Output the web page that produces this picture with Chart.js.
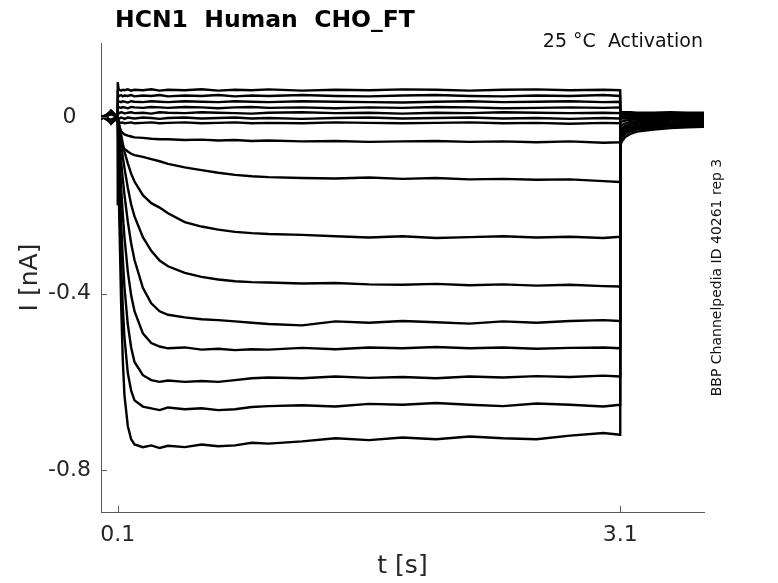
<!DOCTYPE html>
<html>
<head>
<meta charset="utf-8">
<script src="https://cdn.jsdelivr.net/npm/chart.js@4.4.1/dist/chart.umd.min.js"></script>
<style>
  html,body{margin:0;padding:0;background:#fff;}
  #wrap{width:778px;height:583px;}
</style>
</head>
<body>
<div id="wrap"><canvas id="c" width="778" height="583"></canvas></div>
<script>
// time base (s): pre-step baseline, activation step, tail after 3.1 s
const tSec = [0, 0.03, 0.06, 0.099,
  0.1, 0.105, 0.11, 0.12, 0.13, 0.14, 0.16, 0.18, 0.2, 0.25, 0.3, 0.35, 0.4,
  0.5, 0.6, 0.7, 0.8, 0.9, 1.0, 1.2, 1.4, 1.6, 1.8, 2.0, 2.2, 2.4, 2.6, 2.8, 3.0, 3.099,
  3.1, 3.11, 3.13, 3.16, 3.2, 3.3, 3.4, 3.5, 3.6];

// currents (nA), one sweep per array, top to bottom
const sweep1 = [-0.003, 0.004, 0.012, -0.002,
  0.079, 0.064, 0.062, 0.060, 0.062, 0.061, 0.063, 0.060, 0.062, 0.061, 0.063, 0.060, 0.062, 0.061, 0.063, 0.060,
  0.062, 0.061, 0.063, 0.060, 0.062, 0.061, 0.063, 0.062, 0.060, 0.062, 0.063, 0.061, 0.062, 0.061,
  0.014, 0.012, 0.011, 0.011, 0.010, 0.010, 0.011, 0.010, 0.010];
const sweep2 = [0.002, -0.004, -0.010, 0.001,
  0.052, 0.049, 0.048, 0.050, 0.047, 0.049, 0.048, 0.050, 0.047, 0.049, 0.048, 0.050, 0.047, 0.049, 0.048, 0.050,
  0.047, 0.049, 0.048, 0.050, 0.048, 0.047, 0.049, 0.050, 0.048, 0.047, 0.049, 0.048, 0.050, 0.048,
  0.011, 0.010, 0.010, 0.009, 0.009, 0.009, 0.008, 0.009, 0.008];
const sweep3 = [-0.001, 0.002, 0.015, 0.000,
  0.038, 0.036, 0.035, 0.034, 0.036, 0.035, 0.033, 0.036, 0.035, 0.034, 0.036, 0.035, 0.034, 0.036, 0.035, 0.034,
  0.036, 0.035, 0.034, 0.036, 0.035, 0.034, 0.033, 0.035, 0.036, 0.034, 0.035, 0.036, 0.034, 0.035,
  0.009, 0.008, 0.008, 0.007, 0.007, 0.007, 0.006, 0.007, 0.006];
const sweep4 = [0.003, -0.002, -0.014, -0.001,
  0.025, 0.023, 0.022, 0.021, 0.023, 0.022, 0.020, 0.023, 0.022, 0.021, 0.023, 0.022, 0.021, 0.023, 0.022, 0.020,
  0.022, 0.023, 0.021, 0.022, 0.020, 0.022, 0.021, 0.023, 0.022, 0.020, 0.021, 0.022, 0.021, 0.022,
  0.007, 0.006, 0.006, 0.005, 0.005, 0.005, 0.004, 0.005, 0.004];
const sweep5 = [-0.004, 0.001, 0.008, 0.002,
  0.012, 0.010, 0.009, 0.011, 0.010, 0.008, 0.010, 0.011, 0.009, 0.010, 0.008, 0.011, 0.010, 0.009, 0.011, 0.010,
  0.009, 0.008, 0.010, 0.011, 0.009, 0.010, 0.008, 0.010, 0.009, 0.011, 0.010, 0.009, 0.010, 0.009,
  0.005, 0.004, 0.004, 0.004, 0.003, 0.003, 0.003, 0.003, 0.002];
const sweep6 = [0.001, -0.003, -0.008, -0.002,
  0.000, -0.002, -0.003, -0.001, -0.002, -0.004, -0.001, -0.002, -0.003, -0.001, -0.002, -0.004, -0.002, -0.001, -0.003, -0.002,
  -0.001, -0.003, -0.002, -0.004, -0.002, -0.001, -0.003, -0.002, -0.001, -0.003, -0.002, -0.004, -0.002, -0.003,
  0.002, 0.001, 0.001, 0.001, 0.001, 0.000, 0.001, 0.000, 0.000];
const sweep7 = [-0.002, 0.003, 0.006, 0.001,
  -0.008, -0.010, -0.012, -0.013, -0.012, -0.014, -0.013, -0.012, -0.014, -0.013, -0.012, -0.014, -0.013, -0.012, -0.014, -0.013,
  -0.012, -0.014, -0.013, -0.014, -0.012, -0.013, -0.014, -0.013, -0.012, -0.014, -0.013, -0.015, -0.013, -0.014,
  0.000, 0.000, -0.001, -0.001, -0.001, -0.001, 0.000, -0.001, 0.000];
const sweep8 = [0.002, -0.001, -0.012, 0.001,
  0.000, -0.012, -0.022, -0.032, -0.036, -0.039, -0.042, -0.044, -0.046, -0.047, -0.049, -0.050, -0.050, -0.052, -0.051, -0.053,
  -0.052, -0.054, -0.053, -0.055, -0.054, -0.056, -0.055, -0.054, -0.056, -0.055, -0.057, -0.055, -0.058, -0.057,
  -0.004, -0.003, -0.003, -0.002, -0.002, -0.001, -0.001, 0.000, 0.000];
const sweep9 = [-0.001, 0.003, 0.010, -0.001,
  0.000, -0.020, -0.035, -0.055, -0.066, -0.072, -0.078, -0.083, -0.086, -0.090, -0.095, -0.100, -0.106, -0.114, -0.120, -0.126,
  -0.131, -0.134, -0.136, -0.138, -0.139, -0.137, -0.140, -0.138, -0.141, -0.140, -0.142, -0.141, -0.145, -0.147,
  -0.012, -0.010, -0.008, -0.006, -0.005, -0.004, -0.004, -0.003, -0.003];
const sweep10 = [0.001, -0.002, -0.006, 0.002,
  0.000, -0.010, -0.020, -0.040, -0.060, -0.078, -0.105, -0.128, -0.146, -0.177, -0.195, -0.205, -0.218, -0.238, -0.248, -0.255,
  -0.260, -0.263, -0.265, -0.267, -0.270, -0.273, -0.270, -0.274, -0.272, -0.270, -0.273, -0.271, -0.274, -0.271,
  -0.022, -0.018, -0.014, -0.011, -0.009, -0.007, -0.006, -0.005, -0.004];
const sweep11 = [-0.002, 0.004, 0.014, 0.000,
  0.000, -0.015, -0.030, -0.060, -0.090, -0.115, -0.160, -0.198, -0.225, -0.272, -0.303, -0.325, -0.338, -0.353, -0.362, -0.368,
  -0.372, -0.374, -0.375, -0.377, -0.376, -0.379, -0.380, -0.378, -0.381, -0.379, -0.382, -0.380, -0.383, -0.384,
  -0.030, -0.025, -0.020, -0.016, -0.013, -0.010, -0.008, -0.007, -0.006];
const sweep12 = [0.002, -0.004, -0.009, -0.002,
  0.000, -0.027, -0.052, -0.100, -0.140, -0.176, -0.237, -0.286, -0.324, -0.387, -0.422, -0.440, -0.448, -0.454, -0.458, -0.460,
  -0.463, -0.466, -0.469, -0.472, -0.463, -0.466, -0.462, -0.465, -0.468, -0.463, -0.466, -0.462, -0.460, -0.462,
  -0.036, -0.030, -0.024, -0.020, -0.017, -0.014, -0.012, -0.011, -0.010];
const sweep13 = [-0.002, 0.004, 0.011, 0.002,
  0.000, -0.046, -0.088, -0.160, -0.220, -0.272, -0.350, -0.404, -0.440, -0.490, -0.512, -0.520, -0.524, -0.522, -0.527, -0.525,
  -0.528, -0.526, -0.527, -0.523, -0.526, -0.522, -0.524, -0.521, -0.524, -0.522, -0.525, -0.523, -0.522, -0.524,
  -0.042, -0.035, -0.028, -0.024, -0.021, -0.017, -0.015, -0.014, -0.012];
const sweep14 = [0.003, -0.005, -0.013, -0.003,
  0.000, -0.070, -0.135, -0.240, -0.320, -0.385, -0.470, -0.522, -0.555, -0.585, -0.596, -0.600, -0.597, -0.600, -0.598, -0.600,
  -0.596, -0.592, -0.590, -0.592, -0.588, -0.591, -0.589, -0.592, -0.588, -0.590, -0.587, -0.589, -0.586, -0.588,
  -0.048, -0.040, -0.033, -0.028, -0.024, -0.020, -0.018, -0.016, -0.015];
const sweep15 = [-0.004, 0.002, 0.009, 0.001,
  -0.002, -0.100, -0.190, -0.330, -0.430, -0.500, -0.580, -0.620, -0.642, -0.656, -0.660, -0.664, -0.658, -0.662, -0.660, -0.664,
  -0.662, -0.657, -0.655, -0.653, -0.656, -0.650, -0.652, -0.648, -0.652, -0.655, -0.649, -0.652, -0.656, -0.652,
  -0.055, -0.046, -0.038, -0.032, -0.028, -0.024, -0.021, -0.020, -0.018];
const sweep16 = [0.000, 0.005, -0.015, 0.000,
  -0.200, -0.160, -0.240, -0.420, -0.550, -0.630, -0.700, -0.730, -0.742, -0.748, -0.744, -0.750, -0.745, -0.748, -0.742, -0.746,
  -0.744, -0.738, -0.740, -0.735, -0.728, -0.732, -0.726, -0.730, -0.724, -0.728, -0.730, -0.722, -0.716, -0.720,
  -0.065, -0.055, -0.045, -0.038, -0.033, -0.028, -0.025, -0.023, -0.022];

const sweeps = [sweep1, sweep2, sweep3, sweep4, sweep5, sweep6, sweep7, sweep8,
  sweep9, sweep10, sweep11, sweep12, sweep13, sweep14, sweep15, sweep16];

const xTicks = [0.1, 3.1];
const yTicks = [-0.8, -0.4, 0];
const yTickLabels = ["-0.8", "-0.4", "0"];

const FONT = "'DejaVu Sans', sans-serif";
const AXIS = "#5a5a5a";

const datasets = sweeps.map(s => ({
  data: tSec.map((t, i) => ({x: t, y: s[i]})),
  borderColor: "#000", borderWidth: 2.4, pointRadius: 0, tension: 0, fill: false
}));

// inward tick marks + free-standing texts
const decor = {
  id: "decor",
  afterDraw(chart){
    const {ctx, chartArea: a, scales: {x, y}} = chart;
    ctx.save();
    ctx.strokeStyle = AXIS; ctx.lineWidth = 1;
    ctx.beginPath();
    xTicks.forEach(v => { const px = Math.round(x.getPixelForValue(v)) + 0.5; ctx.moveTo(px, a.bottom); ctx.lineTo(px, a.bottom - 6); });
    yTicks.forEach(v => { const py = Math.round(y.getPixelForValue(v)) + 0.5; ctx.moveTo(a.left, py); ctx.lineTo(a.left + 6, py); });
    ctx.stroke();

    ctx.fillStyle = "#000";
    ctx.font = "bold 23.5px " + FONT; ctx.textAlign = "left"; ctx.textBaseline = "alphabetic";
    ctx.fillText("HCN1  Human  CHO_FT", 115, 26.5);
    ctx.fillStyle = "#111";
    ctx.font = "19px " + FONT; ctx.textAlign = "right";
    ctx.fillText("25 °C  Activation", a.right - 1, 47);
    ctx.font = "14px " + FONT; ctx.textAlign = "center"; ctx.textBaseline = "middle";
    ctx.translate(717, (a.top + a.bottom) / 2); ctx.rotate(-Math.PI / 2);
    ctx.fillText("BBP Channelpedia ID 40261 rep 3", 0, 0);
    ctx.restore();
  }
};

new Chart(document.getElementById("c"), {
  type: "line",
  data: {datasets},
  plugins: [decor],
  options: {
    responsive: false, animation: false, devicePixelRatio: 1,
    layout: {padding: {left: 0, right: 74, top: 43, bottom: 0}},
    plugins: {legend: {display: false}, tooltip: {enabled: false}},
    scales: {
      x: {
        type: "linear", min: 0, max: 3.6,
        afterBuildTicks: s => { s.ticks = xTicks.map(v => ({value: v})); },
        afterFit: s => { s.height = 71; },
        grid: {display: false, drawTicks: false},
        border: {display: true, color: AXIS, width: 1},
        ticks: {color: "#262626", font: {family: FONT, size: 22}, padding: 10, maxRotation: 0,
          callback: v => String(v)},
        title: {display: true, text: "t [s]", color: "#262626", font: {family: FONT, size: 25}, padding: {top: 0, bottom: 2}}
      },
      y: {
        type: "linear", min: -0.895, max: 0.168,
        afterBuildTicks: s => { s.ticks = yTicks.map(v => ({value: v})); },
        afterFit: s => { s.width = 101; },
        grid: {display: false, drawTicks: false},
        border: {display: true, color: AXIS, width: 1},
        ticks: {color: "#262626", font: {family: FONT, size: 22}, padding: 10, crossAlign: "center",
          callback: v => yTickLabels[yTicks.indexOf(v)]},
        title: {display: true, text: "I [nA]", color: "#262626", font: {family: FONT, size: 25}, padding: {top: 15, bottom: 0}}
      }
    }
  }
});
</script>
</body>
</html>
